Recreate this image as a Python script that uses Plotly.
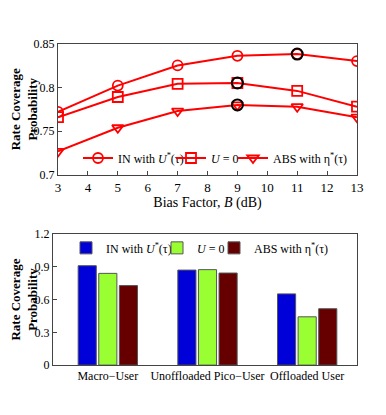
import plotly.graph_objects as go

bias_db = [3, 5, 7, 9, 11, 13]
cov_in = [0.772, 0.802, 0.825, 0.836, 0.838, 0.830]
cov_u0 = [0.766, 0.789, 0.804, 0.805, 0.796, 0.778]
cov_abs = [0.727, 0.754, 0.773, 0.780, 0.778, 0.766]
best_x = [11, 9, 9]
best_y = [0.838, 0.805, 0.780]

user_types = ["Macro\u2212User", "Unoffloaded Pico\u2212User", "Offloaded User"]
bar_in = [0.91, 0.87, 0.652]
bar_u0 = [0.84, 0.874, 0.442]
bar_abs = [0.728, 0.843, 0.516]

names = [
    "IN with <i>U</i><sup>*</sup>(\u03c4)",
    "<i>U</i> = 0",
    "ABS with \u03b7<sup>*</sup>(\u03c4)",
]

FONT = "Liberation Serif"
RED = "#FF0000"
W, H = 386, 415

fig = go.Figure()

# one legend per entry so each entry can sit where the original puts it
line_legends = ["legend", "legend2", "legend3"]
bar_legends = ["legend4", "legend5", "legend6"]

symbols = ["circle-open", "square-open", "triangle-down-open"]
for name, vals, sym, lg in zip(names, [cov_in, cov_u0, cov_abs], symbols, line_legends):
    fig.add_trace(
        go.Scatter(
            x=bias_db,
            y=vals,
            name=name,
            mode="lines+markers",
            line={"color": RED, "width": 2},
            marker={"symbol": sym, "size": 10, "color": RED, "line": {"width": 1.8, "color": RED}},
            xaxis="x",
            yaxis="y",
            legend=lg,
        )
    )

fig.add_trace(
    go.Scatter(
        x=best_x,
        y=best_y,
        mode="markers",
        marker={"symbol": "circle-open", "size": 11, "color": "black", "line": {"width": 2, "color": "black"}},
        showlegend=False,
        xaxis="x",
        yaxis="y",
    )
)

bar_colors = ["#0000D8", "#99FF33", "#660000"]
for name, vals, col, lg in zip(names, [bar_in, bar_u0, bar_abs], bar_colors, bar_legends):
    fig.add_trace(
        go.Bar(
            x=[1, 2, 3],
            y=vals,
            name=name,
            marker={"color": col, "line": {"color": "#555555", "width": 1}},
            xaxis="x2",
            yaxis="y2",
            legend=lg,
        )
    )

axis_common = {
    "showline": True,
    "mirror": True,
    "linecolor": "#444444",
    "linewidth": 1,
    "ticks": "inside",
    "ticklen": 4,
    "tickcolor": "#444444",
    "showgrid": False,
    "zeroline": False,
    "automargin": False,
    "tickfont": {"family": FONT, "size": 13, "color": "black"},
}

# y axes keep automargin so the two-line title is drawn rotated, clear of the ticks
yaxis_common = {
    **axis_common,
    "automargin": True,
    "tickfont": {"family": FONT, "size": 12, "color": "black"},
}

ytitle_font = {"family": FONT, "size": 13, "color": "black", "weight": "bold"}


def legend_at(px_x, px_y):
    return {
        "orientation": "h",
        "x": px_x / W,
        "y": 1 - px_y / H,
        "xanchor": "left",
        "yanchor": "middle",
        "bgcolor": "rgba(255,255,255,0)",
        "font": {"family": FONT, "size": 12},
        "itemwidth": 30,
    }


fig.update_layout(
    width=W,
    height=H,
    margin={"l": 0, "r": 0, "t": 0, "b": 0},
    paper_bgcolor="white",
    plot_bgcolor="white",
    font={"family": FONT, "color": "black"},
    showlegend=True,
    barmode="group",
    bargap=0.38,
    bargroupgap=0.12,
    xaxis={
        **axis_common,
        "domain": [50 / W, 349 / W],
        "range": [3, 13],
        "dtick": 1,
        "anchor": "y",
        "title": {"text": "Bias Factor, <i>B</i> (dB)", "font": {"family": FONT, "size": 14}, "standoff": 0},
    },
    yaxis={
        **yaxis_common,
        "domain": [1 - 165.7 / H, 1 - 29.5 / H],
        "range": [0.7, 0.85],
        "tickvals": [0.7, 0.75, 0.8, 0.85],
        "ticktext": ["0.7", "0.75", "0.8", "0.85"],
        "anchor": "x",
        "title": {"text": "Rate Coverage<br>Probability", "font": ytitle_font, "standoff": 0},
    },
    xaxis2={
        **axis_common,
        "domain": [45 / W, 349 / W],
        "range": [0.45, 3.5],
        "tickvals": [1, 2, 3],
        "ticktext": user_types,
        "tickangle": 0,
        "tickfont": {"family": FONT, "size": 12, "color": "black"},
        "ticks": "",
        "anchor": "y2",
    },
    yaxis2={
        **yaxis_common,
        "domain": [1 - 362.3 / H, 1 - 226.7 / H],
        "range": [0, 1.2],
        "tickvals": [0, 0.3, 0.6, 0.9, 1.2],
        "ticktext": ["0", "0.3", "0.6", "0.9", "1.2"],
        "anchor": "x2",
        "title": {"text": "Rate Coverage<br>Probability", "font": ytitle_font, "standoff": 0},
    },
    legend=legend_at(70, 148),
    legend2=legend_at(163, 148),
    legend3=legend_at(225, 148),
    legend4=legend_at(58, 241),
    legend5=legend_at(149, 241),
    legend6=legend_at(206, 241),
)

fig.write_html("out.html")
